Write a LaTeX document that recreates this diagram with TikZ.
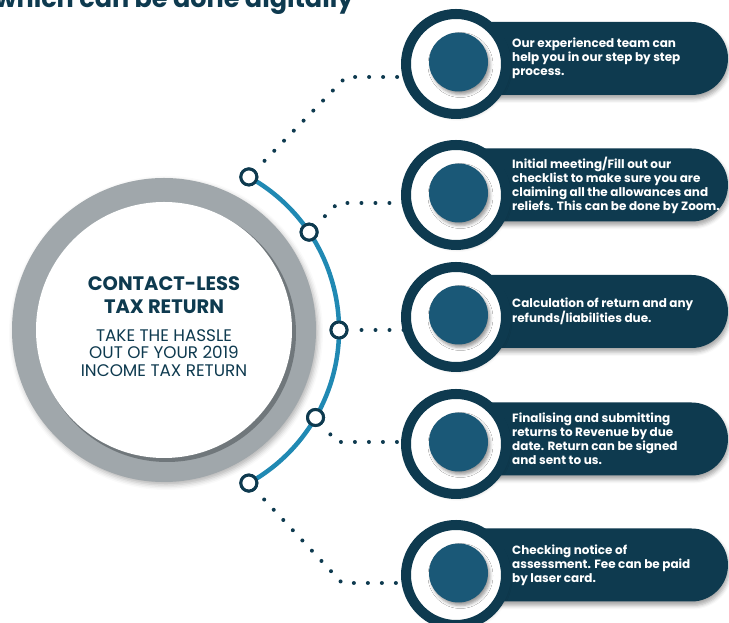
\documentclass[tikz,border=0pt]{standalone}
\RequirePackage{fontspec}
\setmainfont{Poppins}
\RequirePackage{tikz}
\RequirePackage{tkz-euclide}
\usetikzlibrary{calc}
\usetikzlibrary{shadows.blur}

\definecolor{deepteal}{HTML}{0E3A4F}
\definecolor{discblue}{HTML}{1A5877}
\definecolor{arcblue}{HTML}{2089B3}
\definecolor{ringgrey}{HTML}{A0A7AB}
\definecolor{ringshade}{HTML}{70777B}

\tikzset{
    knot/.style={circle,draw=deepteal,fill=white,line width=3pt,minimum size=16pt,inner sep=0pt},
    trail/.style={draw=deepteal,line width=4pt,line cap=round,dash pattern=on 0pt off 14pt,shorten <=13pt},
    pill/.style={fill=deepteal,blur shadow={shadow xshift=1pt,shadow yshift=-4pt,shadow blur radius=4pt,shadow opacity=35}},
    halo/.style={circle,draw=deepteal,fill=white,line width=10pt,minimum size=100pt,inner sep=0pt,
        blur shadow={shadow xshift=2pt,shadow yshift=-3pt,shadow blur radius=4pt,shadow opacity=30}},
    disc/.style={circle,fill=discblue,minimum size=59pt,inner sep=0pt,
        blur shadow={shadow xshift=2pt,shadow yshift=-3pt,shadow blur radius=3pt,shadow opacity=40}},
    note/.style={anchor=west,text=white,align=left,inner sep=0pt,font=\bfseries\fontsize{12}{14}\selectfont},
}

\begin{document}
\begin{tikzpicture}[x=1pt,y=1pt]
                    \useasboundingbox (0,0) rectangle (729,623);

                    \node[anchor=base east,text=deepteal,font=\bfseries\fontsize{25.5}{28}\selectfont] (title) at (357,615) {which can be done digitally};

                    \tkzDefPoint(164,293){O}
                    \fill[ringgrey,blur shadow={shadow xshift=2pt,shadow yshift=-3pt,shadow blur radius=5pt,shadow opacity=30}] (O) circle (152);
                    \fill[ringshade] ($(O)+(3,-3)$) circle (129);
                    \fill[white] (O) circle (128);

                    \node[knot] (K1) at ($(O)+(61:175)$) {};
                    \node[knot] (K2) at ($(O)+(34:175)$) {};
                    \node[knot] (K3) at ($(O)+(0:175)$) {};
                    \node[knot] (K4) at ($(O)+(-30:175)$) {};
                    \node[knot] (K5) at ($(O)+(-61:175)$) {};

                    \tkzDefPoint(346,546){C1}
                    \tkzDefPoint(405,546){E1}
                    \tkzDefPoint(338,420){C2}
                    \tkzDefPoint(405,420){E2}
                    \tkzDefPoint(405,293){E3}
                    \tkzDefPoint(337,181){C4}
                    \tkzDefPoint(405,181){E4}
                    \tkzDefPoint(342,40){C5}
                    \tkzDefPoint(405,40){E5}

                    \draw[trail] (K1) -- (C1) -- (E1);
                    \draw[trail] (K2) -- (C2) -- (E2);
                    \draw[trail] (K3) -- (E3);
                    \draw[trail] (K4) -- (C4) -- (E4);
                    \draw[trail] (K5) -- (C5) -- (E5);

                    \draw[arcblue,line width=4.5pt] ($(O)+(61:175)$) arc[start angle=61,end angle=-61,radius=175];
                    \node[knot] at (K1) {};
                    \node[knot] at (K2) {};
                    \node[knot] at (K3) {};
                    \node[knot] at (K4) {};
                    \node[knot] at (K5) {};

                    \fill[pill] (450,601) -- (691.5,601) arc[start angle=90,end angle=-90,radius=36.5] -- (450,528) -- cycle;
                    \node[halo] (R1) at (456,559) {};
                    \node[disc] (D1) at (458.5,561) {};
                    \node[note] (T1) at (512,564.5) {Our experienced team can\\help you in our step by step\\process.};

                    \fill[pill] (450,474.5) -- (691.5,474.5) arc[start angle=90,end angle=-90,radius=36.5] -- (450,401.5) -- cycle;
                    \node[halo] (R2) at (456,428) {};
                    \node[disc] (D2) at (458.5,430) {};
                    \node[note] (T2) at (512,438) {Initial meeting/Fill out our\\checklist to make sure you are\\claiming all the allowances and\\reliefs. This can be done by Zoom.};

                    \fill[pill] (450,348) -- (691.5,348) arc[start angle=90,end angle=-90,radius=36.5] -- (450,275) -- cycle;
                    \node[halo] (R3) at (456,306) {};
                    \node[disc] (D3) at (458.5,308) {};
                    \node[note] (T3) at (512,311.5) {Calculation of return and any\\refunds/liabilities due.};

                    \fill[pill] (450,220.5) -- (691.5,220.5) arc[start angle=90,end angle=-90,radius=36.5] -- (450,147.5) -- cycle;
                    \node[halo] (R4) at (456,179) {};
                    \node[disc] (D4) at (458.5,181) {};
                    \node[note] (T4) at (512,184) {Finalising and submitting\\returns to Revenue by due\\date. Return can be signed\\and sent to us.};

                    \fill[pill] (450,94.5) -- (691.5,94.5) arc[start angle=90,end angle=-90,radius=36.5] -- (450,21.5) -- cycle;
                    \node[halo] (R5) at (456,48) {};
                    \node[disc] (D5) at (458.5,50) {};
                    \node[note] (T5) at (512,58) {Checking notice of\\assessment. Fee can be paid\\by laser card.};

                    \node[text=deepteal,align=center,font=\bfseries\fontsize{19.5}{23}\selectfont] (H) at (164,327.5) {CONTACT-LESS\\TAX RETURN};
                    \node[text=deepteal,align=center,font=\fontsize{16.8}{17.8}\selectfont] (S) at (164,270) {TAKE THE HASSLE\\OUT OF YOUR 2019\\INCOME TAX RETURN};
                \end{tikzpicture}
\end{document}
